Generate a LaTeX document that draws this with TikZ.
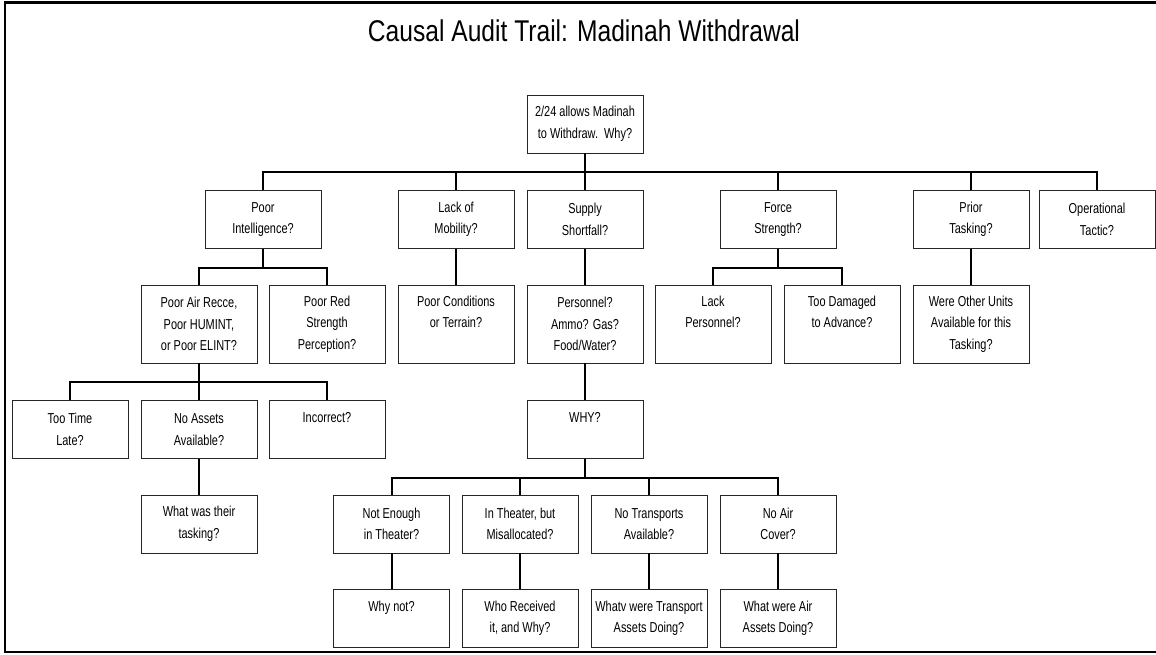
\documentclass[tikz,border=0pt]{standalone}
\usepackage{fontspec}
\setmainfont{Liberation Sans}[FakeStretch=0.76]
\newfontfamily\titlefamily{Liberation Sans}[FakeStretch=0.82]
\newcommand{\boxfont}{\fontsize{14.4}{21.5}\selectfont}
\newcommand{\titlefont}{\titlefamily\fontsize{30}{36}\selectfont}
\tikzset{
  qbox/.style={draw=black!85, line width=0.9pt, minimum width=116pt, minimum height=58pt,
    align=center, inner sep=2pt, font=\boxfont},
  tallbox/.style={qbox, minimum height=78pt},
  link/.style={line width=2pt}
}
\begin{document}
\begin{tikzpicture}[x=1pt,y=-1pt]
    \useasboundingbox (0,0) rectangle (1156,655);
    \draw[line width=2.5pt] (1162,2.5) -- (5,2.5) -- (5,652) -- (1162,652);

    \node[font=\titlefont, anchor=base] (title) at (584,42) {Causal Audit Trail: Madinah Withdrawal};

    \node[qbox] (root) at (585,124) {2/24 allows Madinah\\to Withdraw.\ \ Why?};

    \node[qbox] (intel) at (263,219.5) {Poor\\Intelligence?};
    \node[qbox] (mob) at (456,219.5) {Lack of\\Mobility?};
    \node[qbox] (supply) at (585,219.5) {Supply\\Shortfall?};
    \node[qbox] (force) at (778,219.5) {Force\\Strength?};
    \node[qbox] (prior) at (971,219.5) {Prior\\Tasking?};
    \node[qbox] (optac) at (1097,219.5) {Operational\\Tactic?};

    \node[tallbox] (recce) at (199,324) {Poor Air Recce,\\Poor HUMINT,\\or Poor ELINT?};
    \node[tallbox] (redstr) at (327,324) {Poor Red\\Strength\\Perception?};
    \node[tallbox] (terrain) at (456,324) {Poor Conditions\\or Terrain?\\\vphantom{Ay}};
    \node[tallbox] (pers) at (585,324) {Personnel?\\Ammo? Gas?\\Food/Water?};
    \node[tallbox] (lackp) at (713,324) {Lack\\Personnel?\\\vphantom{Ay}};
    \node[tallbox] (damaged) at (842,324) {Too Damaged\\to Advance?\\\vphantom{Ay}};
    \node[tallbox] (others) at (971,324) {Were Other Units\\Available for this\\Tasking?};

    \node[qbox] (late) at (70,429.5) {Too Time\\Late?};
    \node[qbox] (noassets) at (199,429.5) {No Assets\\Available?};
    \node[qbox] (incorrect) at (327,429.5) {Incorrect?\\\vphantom{Ay}};
    \node[qbox] (why) at (585,429.5) {WHY?\\\vphantom{Ay}};

    \node[qbox] (tasking) at (199,524) {What was their\\tasking?};
    \node[qbox] (notenough) at (391.5,524) {Not Enough\\in Theater?};
    \node[qbox] (misalloc) at (520,524) {In Theater, but\\Misallocated?};
    \node[qbox] (notrans) at (649,524) {No Transports\\Available?};
    \node[qbox] (noair) at (778,524) {No Air\\Cover?};

    \node[qbox] (whynot) at (391.5,618.5) {Why not?\\\vphantom{Ay}};
    \node[qbox] (received) at (520,618.5) {Who Received\\it, and Why?};
    \node[qbox] (transdoing) at (649,618.5) {Whatv were Transport\\Assets Doing?};
    \node[qbox] (airdoing) at (778,618.5) {What were Air\\Assets Doing?};

    \draw[link] (root.south) -- ++(0,19) -| (intel.north);
    \draw[link] (root.south) -- ++(0,19) -| (mob.north);
    \draw[link] (root.south) -- (supply.north);
    \draw[link] (root.south) -- ++(0,19) -| (force.north);
    \draw[link] (root.south) -- ++(0,19) -| (prior.north);
    \draw[link] (root.south) -- ++(0,19) -| (optac.north);

    \draw[link] (intel.south) -- ++(0,19) -| (recce.north);
    \draw[link] (intel.south) -- ++(0,19) -| (redstr.north);
    \draw[link] (mob.south) -- (terrain.north);
    \draw[link] (supply.south) -- (pers.north);
    \draw[link] (force.south) -- ++(0,19) -| (lackp.north);
    \draw[link] (force.south) -- ++(0,19) -| (damaged.north);
    \draw[link] (prior.south) -- (others.north);

    \draw[link] (recce.south) -- ++(0,19) -| (late.north);
    \draw[link] (recce.south) -- (noassets.north);
    \draw[link] (recce.south) -- ++(0,19) -| (incorrect.north);
    \draw[link] (pers.south) -- (why.north);

    \draw[link] (noassets.south) -- (tasking.north);
    \draw[link] (why.south) -- ++(0,19) -| (notenough.north);
    \draw[link] (why.south) -- ++(0,19) -| (misalloc.north);
    \draw[link] (why.south) -- ++(0,19) -| (notrans.north);
    \draw[link] (why.south) -- ++(0,19) -| (noair.north);

    \draw[link] (notenough.south) -- (whynot.north);
    \draw[link] (misalloc.south) -- (received.north);
    \draw[link] (notrans.south) -- (transdoing.north);
    \draw[link] (noair.south) -- (airdoing.north);
\end{tikzpicture}
\end{document}
